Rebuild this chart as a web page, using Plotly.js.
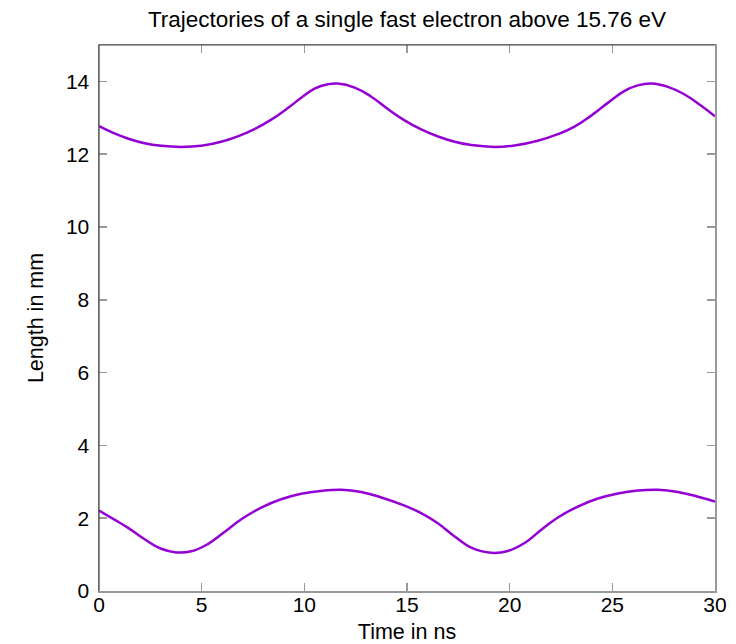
<!DOCTYPE html>
<html>
<head>
<meta charset="utf-8">
<script src="https://cdn.plot.ly/plotly-3.0.1.min.js"></script>
<style>
  html, body { margin: 0; padding: 0; background: #fff; }
  #chart { width: 736px; height: 644px; }
</style>
</head>
<body>
<div id="chart"></div>
<script>
// Electron trajectory samples: time (ns) and position (mm)
const tUpper = [0, 0.75, 1.40, 2.22, 3.03, 4.00, 4.98, 5.95, 6.76, 7.57, 8.39, 9.20, 9.85, 10.50, 11.15, 11.63, 12.45, 13.26, 14.07, 14.88, 15.69, 16.50, 17.32, 18.13, 19.26, 20.24, 21.37, 22.35, 23.16, 23.97, 24.78, 25.60, 26.24, 26.90, 27.71, 28.52, 29.33, 30.0];
const zUpper = [12.77, 12.57, 12.43, 12.30, 12.23, 12.20, 12.23, 12.34, 12.49, 12.69, 12.95, 13.27, 13.55, 13.80, 13.92, 13.94, 13.83, 13.58, 13.24, 12.93, 12.68, 12.49, 12.34, 12.25, 12.20, 12.24, 12.37, 12.55, 12.76, 13.06, 13.41, 13.74, 13.89, 13.94, 13.85, 13.64, 13.33, 13.04];

const tLower = [0, 0.75, 1.40, 2.22, 3.03, 3.76, 4.49, 5.30, 6.11, 6.93, 7.90, 8.87, 9.85, 10.82, 11.80, 12.77, 13.75, 14.72, 15.69, 16.50, 17.32, 18.13, 19.10, 19.91, 20.73, 21.54, 22.35, 23.32, 24.30, 25.27, 26.24, 27.22, 28.19, 29.17, 30.0];
const zLower = [2.21, 1.96, 1.74, 1.42, 1.16, 1.06, 1.09, 1.29, 1.62, 1.97, 2.29, 2.52, 2.67, 2.75, 2.78, 2.72, 2.57, 2.38, 2.14, 1.86, 1.50, 1.19, 1.05, 1.10, 1.32, 1.68, 2.02, 2.32, 2.54, 2.68, 2.76, 2.78, 2.72, 2.59, 2.46];

const xTicks = [0, 5, 10, 15, 20, 25, 30];
const yTicks = [0, 2, 4, 6, 8, 10, 12, 14];

const FONT = 'Liberation Sans, Arial, Helvetica, sans-serif';
const LINE = '#9400d3';

const traces = [
  { x: tUpper, y: zUpper, mode: 'lines', line: { color: LINE, width: 2.5, shape: 'spline', smoothing: 1.3 }, hoverinfo: 'skip' },
  { x: tLower, y: zLower, mode: 'lines', line: { color: LINE, width: 2.5, shape: 'spline', smoothing: 1.3 }, hoverinfo: 'skip' }
];

const axisCommon = {
  showgrid: false,
  zeroline: false,
  showline: true,
  linecolor: '#999',
  linewidth: 1.5,
  mirror: 'ticks',
  ticks: 'inside',
  ticklen: 8,
  tickwidth: 1.5,
  tickcolor: '#999',
  tickfont: { family: FONT, size: 21, color: '#000' },
  fixedrange: true
};

const layout = {
  width: 736,
  height: 644,
  margin: { l: 99, r: 21, t: 45, b: 53 },
  paper_bgcolor: '#fff',
  plot_bgcolor: '#fff',
  showlegend: false,
  title: {
    text: 'Trajectories of a single fast electron above 15.76 eV',
    font: { family: FONT, size: 22.5, color: '#000' },
    x: 0.5, xref: 'paper', xanchor: 'center',
    y: 1 - 19 / 644, yref: 'container', yanchor: 'middle'
  },
  xaxis: Object.assign({}, axisCommon, {
    range: [0, 30],
    tickvals: xTicks,
    ticktext: xTicks.map(String),
    ticklabelstandoff: -6,
    title: { text: 'Time in ns', font: { family: FONT, size: 21.5, color: '#000' }, standoff: 9 }
  }),
  yaxis: Object.assign({}, axisCommon, {
    range: [0, 15],
    tickvals: yTicks,
    ticktext: yTicks.map(String),
    ticklabelstandoff: 4,
    title: { text: 'Length in mm', font: { family: FONT, size: 21.5, color: '#000' }, standoff: 16 }
  }),
  shapes: [
    // darker left and top frame edges
    { type: 'line', xref: 'paper', yref: 'paper', x0: 0, x1: 0, y0: 0, y1: 1, line: { color: '#444', width: 1.2 }, layer: 'above' },
    { type: 'line', xref: 'paper', yref: 'paper', x0: 0, x1: 1, y0: 1, y1: 1, line: { color: '#444', width: 1.2 }, layer: 'above' }
  ]
};

Plotly.newPlot('chart', traces, layout, { staticPlot: true, displayModeBar: false });
</script>
</body>
</html>
